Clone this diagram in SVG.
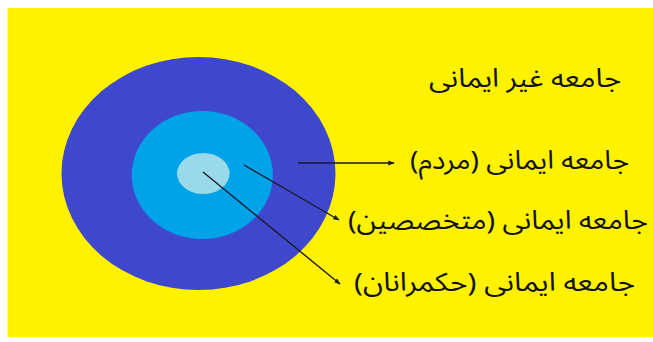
<svg xmlns="http://www.w3.org/2000/svg" width="653" height="342" viewBox="0 0 653 342">
<defs>
<style>
.lbl{font-family:"Noto Sans Arabic","DejaVu Sans",sans-serif;font-size:26px;fill:#111;direction:rtl;}
.con{stroke:#1a1a2a;stroke-width:1.4;fill:none;}
</style>
<marker id="ah" viewBox="0 0 10 10" refX="9" refY="5" markerWidth="4.5" markerHeight="4.5" orient="auto">
<path d="M0,1 L10,5 L0,9 z" fill="#1a1a2a"/>
</marker>
</defs>
<rect x="0" y="0" width="653" height="342" fill="#ffffff"/>
<rect x="7.5" y="8" width="645.5" height="329" fill="#fff200"/>
<g id="outer"><ellipse cx="198.5" cy="173.5" rx="137" ry="116.5" fill="#3f48cc"/></g>
<g id="middle"><ellipse cx="202.3" cy="175" rx="70.6" ry="64" fill="#00a2e8"/></g>
<g id="inner"><ellipse cx="203.3" cy="173.5" rx="26.3" ry="20.5" fill="#99d9ea"/></g>
<g id="connectors">
<line class="con" x1="298" y1="163" x2="394" y2="163" marker-end="url(#ah)"/>
<line class="con" x1="244" y1="165" x2="339" y2="220" marker-end="url(#ah)"/>
<line class="con" x1="203" y1="172" x2="340" y2="284" marker-end="url(#ah)"/>
</g>
<g id="label-non"><text class="lbl" x="621" y="87" text-anchor="start" textLength="192" lengthAdjust="spacingAndGlyphs">جامعه غیر ایمانی</text></g>
<g id="label-people"><text class="lbl" x="629" y="169" text-anchor="start" textLength="219" lengthAdjust="spacingAndGlyphs">جامعه ایمانی (مردم)</text></g>
<g id="label-experts"><text class="lbl" x="648" y="229" text-anchor="start" textLength="300" lengthAdjust="spacingAndGlyphs">جامعه ایمانی (متخصصین)</text></g>
<g id="label-rulers"><text class="lbl" x="635" y="291" text-anchor="start" textLength="281" lengthAdjust="spacingAndGlyphs">جامعه ایمانی (حکمرانان)</text></g>
</svg>
